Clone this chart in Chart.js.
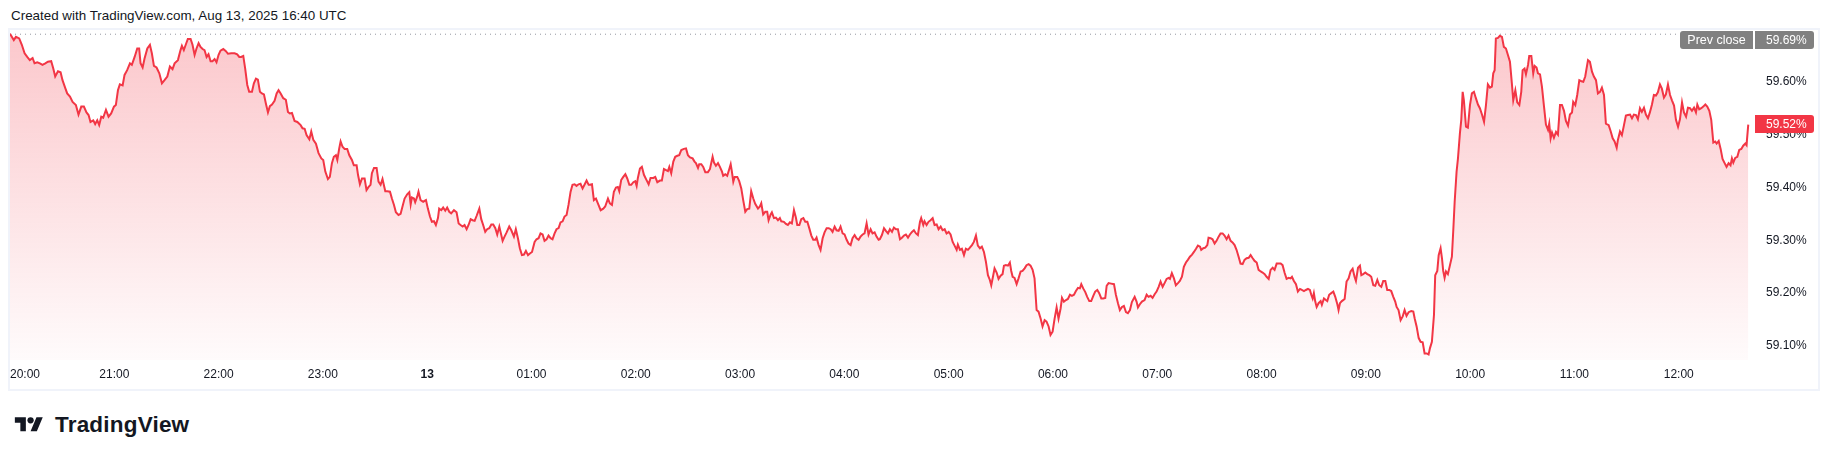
<!DOCTYPE html>
<html>
<head>
<meta charset="utf-8">
<script src="https://cdn.jsdelivr.net/npm/chart.js@4.4.1/dist/chart.umd.min.js"></script>
<style>
  html, body { margin: 0; padding: 0; background: #fff; }
  body { width: 1831px; height: 459px; position: relative; overflow: hidden; font-family: "Liberation Sans", Arial, sans-serif; color: #131722; }
  .title { position: absolute; left: 11px; top: 8px; font-size: 13.4px; }
  .frame { position: absolute; left: 8px; top: 28px; width: 1808px; height: 359px; border: 2px solid #f0f3fa; }
  .wrap { position: absolute; left: 10px; top: 30px; width: 1808px; height: 359px; }
  .logo { position: absolute; left: 12px; top: 413px; height: 24px; display: flex; align-items: center; }
  .logo svg { width: 34px; height: 22px; }
  .logo span { margin-left: 9px; font-size: 22.5px; font-weight: bold; color: #131722; letter-spacing: 0.2px; }
</style>
</head>
<body>
<div class="title">Created with TradingView.com, Aug 13, 2025 16:40 UTC</div>
<div class="frame"></div>
<div class="wrap"><canvas id="chart" width="1808" height="359"></canvas></div>
<div class="logo">
  <svg viewBox="0 0 36 28"><path fill="#131722" d="M14 22H7V11H0V4h14v18zM28 22h-8l7.5-18h8L28 22z"/><circle fill="#131722" cx="20" cy="8" r="4"/></svg>
  <span>TradingView</span>
</div>
<script>
(() => {
  'use strict';

  // minutes after 20:00 (Aug 12) for each reading
  const mins = [
    0,2.2,3.4,5.3,6.8,8.4,9.9,11.4,13.0,14.1,
    15.7,17.2,18.7,20.3,21.8,23.7,24.9,26.0,27.6,29.1,
    30.2,31.8,32.9,34.5,36.0,37.9,39.4,41.0,42.5,44.0,
    45.2,46.3,47.9,49.0,50.2,51.3,52.5,53.6,55.2,56.7,
    58.2,59.8,60.9,62.1,63.2,64.8,65.9,67.4,69.0,70.1,
    71.7,73.2,74.3,75.1,76.3,77.4,79.0,80.5,81.6,82.8,
    84.3,85.9,87.4,88.9,90.5,92.0,93.5,94.7,96.6,98.1,
    98.9,100.0,101.2,102.3,103.9,105.0,106.2,107.3,108.5,109.6,
    110.8,111.9,113.1,114.2,115.4,116.5,117.7,118.8,120.0,121.1,
    122.7,124.2,125.4,127.3,129.2,130.7,131.9,133.0,134.2,135.3,
    136.5,137.6,139.2,140.3,141.5,142.6,143.8,144.9,146.1,147.2,
    148.4,149.5,150.7,152.2,153.4,154.5,155.7,157.2,158.7,159.9,
    161.0,162.2,163.7,165.3,
    167.2,168.3,169.5,170.6,172.2,173.3,174.5,176.0,177.5,179.1,
    180.2,181.4,182.9,184.0,185.2,186.3,187.5,188.3,189.4,190.2,
    191.3,192.5,194.0,195.2,196.7,197.8,199.4,200.2,201.3,202.5,
    204.0,205.1,206.3,207.4,208.2,209.4,210.9,212.0,213.2,214.3,
    215.9,217.0,218.6,219.7,220.9,222.0,223.5,224.7,225.8,227.0,
    228.5,229.7,230.5,231.2,232.4,233.1,234.3,235.0,236.2,237.7,
    239.3,240.4,241.6,242.7,243.9,245.0,246.2,246.9,248.1,249.2,
    250.4,251.5,252.7,253.8,255.4,256.9,258.1,259.2,260.4,261.5,
    262.7,263.8,265.0,266.1,267.3,268.4,270.0,271.1,272.2,273.4,
    274.5,275.7,276.9,278.0,279.2,280.3,281.5,282.2,283.4,284.5,
    285.7,287.2,288.4,289.9,291.0,292.2,293.3,294.5,295.7,296.8,
    298.0,299.1,300.3,301.8,302.9,304.1,305.2,306.4,307.5,308.7,
    309.8,311.0,312.1,313.3,314.4,315.6,316.7,317.9,319.0,320.2,
    321.3,322.5,323.6,324.8,325.9,327.1,328.2,329.4,330.5,331.7,
    332.9,
    333.6,334.8,335.9,337.1,338.2,339.8,341.3,342.4,344.0,345.1,
    346.3,347.4,348.6,349.7,350.5,351.6,352.8,354.0,355.1,356.3,
    357.4,358.6,359.7,360.5,361.2,362.4,363.5,364.7,366.2,367.4,
    368.5,370.1,371.2,372.4,373.9,375.0,376.2,377.4,378.5,379.3,
    380.4,381.6,382.7,383.9,385.0,386.2,387.7,388.9,390.0,391.2,
    392.7,393.8,394.6,395.8,396.5,397.7,398.8,400.0,401.5,402.7,
    403.4,404.2,405.0,406.1,407.3,408.4,409.6,410.3,411.5,412.6,
    413.8,414.6,415.3,416.1,416.9,418.4,419.5,420.7,421.8,423.0,
    424.1,425.3,426.4,427.6,428.7,430.3,431.4,432.2,433.3,434.5,
    435.6,436.4,437.6,438.3,439.5,440.6,441.8,442.9,443.7,445.2,
    446.4,447.5,448.7,449.8,451.0,452.1,452.9,454.1,455.2,456.4,
    457.5,458.7,459.8,461.0,462.1,463.3,464.0,465.2,466.3,467.5,
    468.6,469.8,471.0,472.1,473.2,474.4,475.5,476.7,477.8,479.0,
    480.1,481.3,482.4,483.6,484.7,485.9,487.0,488.2,489.3,490.5,
    491.6,492.8,493.9,495.1,496.2,497.4,498.5,499.7,
    500.4,501.6,502.8,503.9,505.1,506.2,507.4,508.5,509.7,510.8,
    512.0,513.1,514.3,515.4,516.6,517.7,518.9,520.0,521.2,522.3,
    523.5,524.2,525.4,526.1,527.3,528.4,529.6,530.8,531.9,533.1,
    534.2,535.4,536.5,537.7,538.8,540.0,541.1,542.3,543.4,544.6,
    545.3,546.5,547.6,548.8,549.9,551.1,552.2,553.4,554.5,555.7,
    556.8,558.0,559.1,560.3,561.4,562.6,563.7,564.5,565.6,566.4,
    567.6,568.7,569.9,571.0,571.8,572.9,574.1,575.2,576.0,576.8,
    577.9,579.1,580.2,581.4,582.5,583.7,584.8,586.0,587.1,588.3,
    589.4,590.6,591.7,592.9,594.0,595.2,596.3,597.5,598.6,599.8,
    600.9,602.1,603.2,604.4,605.2,606.3,607.5,608.6,609.8,610.9,
    612.1,613.2,614.4,615.5,616.3,617.4,618.6,619.7,620.9,622.0,
    623.2,624.3,625.5,626.6,627.8,628.9,630.1,630.9,632.0,633.5,
    635.1,636.2,637.4,638.5,639.7,640.8,642.0,643.1,644.3,645.4,
    647.0,648.1,648.9,650.0,651.2,652.7,653.9,655.0,656.2,657.3,
    658.5,659.6,660.8,661.9,663.1,664.2,665.4,666.5,
    667.3,668.4,669.6,670.7,671.9,673.0,674.2,675.3,676.5,677.6,
    678.8,680.0,681.1,682.3,683.4,684.6,685.3,686.5,687.6,688.8,
    689.5,690.7,691.8,693.0,694.1,695.3,696.4,697.6,698.7,699.9,
    701.0,702.2,703.3,704.5,705.6,706.8,707.9,709.1,710.2,711.4,
    712.6,713.7,714.9,716.0,717.2,718.3,719.5,720.6,721.8,722.9,
    724.1,725.2,726.4,727.5,728.7,729.8,731.0,732.1,733.3,734.4,
    735.6,736.7,737.5,738.6,739.8,740.9,742.1,743.2,744.4,745.5,
    746.7,747.8,748.6,749.4,750.1,750.9,751.7,752.8,754.0,754.7,
    755.9,757.0,757.8,758.9,760.1,761.3,762.4,763.6,764.3,765.1,
    766.2,767.8,768.9,770.1,771.2,772.4,773.5,774.3,775.5,776.6,
    777.4,778.5,779.7,780.8,782.0,783.1,784.3,785.4,786.6,787.7,
    788.9,790.0,791.2,792.3,793.5,794.6,795.8,796.9,797.7,798.8,
    800.0,801.2,802.3,803.4,804.6,806.1,807.3,808.1,809.2,810.4,
    811.5,812.7,813.8,815.0,816.1,816.9,818.0,819.2,819.9,821.1,
    821.9,823.0,823.8,824.5,825.3,826.1,827.2,828.4,829.5,830.3,
    831.1,832.2,833.0,
    834.1,834.9,835.7,836.4,837.6,838.7,839.9,841.0,842.2,843.3,
    844.5,845.6,846.8,848.0,849.1,850.2,851.4,852.5,853.3,854.1,
    854.8,856.0,857.1,858.3,859.4,860.6,861.7,862.9,864.0,864.8,
    866.0,867.1,868.3,869.4,870.2,871.3,872.1,873.3,874.0,875.2,
    876.3,877.1,878.2,879.0,880.2,881.3,882.5,883.6,884.8,885.5,
    886.3,887.1,888.2,889.4,890.5,891.7,892.8,894.0,895.1,896.3,
    897.4,898.6,899.3,900.5,901.6,902.8,904.0,905.1,906.2,907.8,
    908.9,910.1,911.2,912.4,913.5,914.7,915.8,917.0,918.1,919.7,
    920.8,922.0,923.1,924.3,925.0,926.2,927.3,928.5,929.6,930.8,
    932.0,933.1,934.2,935.4,936.5,937.7,938.8,940.0,941.1,942.3,
    943.4,944.6,945.7,946.9,948.0,949.2,950.3,951.5,952.6,953.8,
    955.0,956.1,957.3,958.4,959.6,960.7,961.9,963.0,964.2,965.3,
    966.5,967.6,968.8,969.9,970.7,971.8,973.0,974.1,975.3,976.4,
    977.6,978.7,979.9,981.0,981.8,983.0,984.1,985.2,986.4,987.5,
    988.7,989.8,990.6,991.4,992.5,993.7,994.8,996.0,997.1,998.3,
    999.0,1000
  ];

  // yield in %
  const pct = [
    59.691,59.679,59.685,59.682,59.670,59.654,59.647,59.641,59.645,59.635,
    59.637,59.635,59.632,59.635,59.638,59.639,59.625,59.610,59.620,59.618,
    59.603,59.588,59.578,59.572,59.562,59.556,59.538,59.553,59.553,59.542,
    59.537,59.524,59.527,59.520,59.527,59.518,59.534,59.532,59.547,59.534,
    59.540,59.553,59.556,59.584,59.595,59.593,59.613,59.622,59.635,59.632,
    59.647,59.663,59.663,59.635,59.627,59.644,59.663,59.670,59.654,59.630,
    59.627,59.616,59.597,59.603,59.610,59.629,59.624,59.635,59.641,59.660,
    59.668,59.660,59.671,59.681,59.681,59.670,59.651,59.663,59.673,59.666,
    59.662,59.660,59.647,59.652,59.639,59.639,59.643,59.637,59.651,59.659,
    59.662,59.658,59.653,59.654,59.654,59.652,59.647,59.647,59.649,59.625,
    59.594,59.581,59.581,59.597,59.606,59.604,59.581,59.578,59.576,59.559,
    59.542,59.554,59.557,59.564,59.578,59.584,59.578,59.569,59.566,59.543,
    59.540,59.541,59.526,59.524,
    59.518,59.512,59.511,59.499,59.491,59.506,59.490,59.483,59.465,59.455,
    59.452,59.430,59.416,59.420,59.446,59.458,59.461,59.452,59.474,59.487,
    59.477,59.473,59.473,59.461,59.452,59.442,59.442,59.424,59.406,59.417,
    59.417,59.395,59.401,59.405,59.427,59.437,59.437,59.411,59.405,59.416,
    59.393,59.393,59.392,59.379,59.367,59.353,59.348,59.350,59.364,59.379,
    59.387,59.391,59.368,59.381,59.379,59.372,59.383,59.392,59.376,59.373,
    59.376,59.360,59.345,59.335,59.336,59.329,59.342,59.360,59.357,59.362,
    59.356,59.362,59.354,59.351,59.357,59.353,59.332,59.329,59.326,59.329,
    59.321,59.329,59.340,59.338,59.337,59.346,59.360,59.340,59.329,59.316,
    59.321,59.323,59.330,59.330,59.323,59.311,59.326,59.316,59.299,59.307,
    59.315,59.326,59.319,59.307,59.321,59.304,59.285,59.272,59.273,59.280,
    59.272,59.275,59.278,59.297,59.302,59.304,59.313,59.311,59.299,59.302,
    59.309,59.304,59.302,59.313,59.321,59.323,59.334,59.336,59.345,59.348,
    59.367,59.392,59.405,59.406,59.403,59.406,59.407,59.398,59.405,59.413,
    59.405,
    59.405,59.406,59.376,59.379,59.370,59.357,59.360,59.364,59.379,59.370,
    59.367,59.392,59.400,59.401,59.393,59.414,59.420,59.425,59.417,59.405,
    59.405,59.410,59.412,59.403,59.418,59.436,59.439,59.424,59.414,59.406,
    59.418,59.418,59.420,59.410,59.413,59.413,59.435,59.433,59.431,59.439,
    59.427,59.449,59.458,59.460,59.461,59.471,59.473,59.474,59.461,59.457,
    59.455,59.449,59.446,59.437,59.444,59.444,59.439,59.429,59.429,59.435,
    59.446,59.458,59.447,59.441,59.446,59.439,59.430,59.422,59.425,59.422,
    59.435,59.444,59.430,59.411,59.420,59.420,59.412,59.398,59.376,59.354,
    59.359,59.360,59.393,59.379,59.369,59.360,59.364,59.370,59.349,59.354,
    59.354,59.338,59.349,59.353,59.342,59.343,59.338,59.342,59.336,59.335,
    59.331,59.329,59.334,59.332,59.357,59.343,59.329,59.329,59.340,59.342,
    59.335,59.335,59.323,59.309,59.301,59.301,59.305,59.291,59.282,59.304,
    59.315,59.323,59.323,59.321,59.316,59.326,59.319,59.318,59.326,59.313,
    59.311,59.301,59.294,59.291,59.304,59.310,59.304,59.301,59.307,59.311,
    59.313,59.332,59.311,59.321,59.313,59.315,59.307,59.301,
    59.302,59.310,59.323,59.318,59.313,59.321,59.316,59.324,59.321,59.321,
    59.302,59.305,59.309,59.311,59.305,59.311,59.316,59.319,59.313,59.310,
    59.335,59.342,59.329,59.336,59.329,59.335,59.338,59.342,59.329,59.330,
    59.321,59.326,59.319,59.321,59.313,59.316,59.311,59.297,59.290,59.282,
    59.292,59.282,59.284,59.272,59.284,59.282,59.286,59.291,59.297,59.309,
    59.290,59.285,59.288,59.278,59.260,59.234,59.225,59.215,59.233,59.247,
    59.239,59.227,59.233,59.236,59.252,59.253,59.252,59.258,59.242,59.231,
    59.229,59.217,59.228,59.241,59.242,59.247,59.253,59.255,59.252,59.244,
    59.228,59.168,59.165,59.152,59.137,59.149,59.146,59.137,59.121,59.127,
    59.151,59.173,59.152,59.171,59.191,59.184,59.187,59.189,59.197,59.195,
    59.197,59.204,59.210,59.209,59.217,59.209,59.202,59.193,59.185,59.185,
    59.195,59.203,59.206,59.200,59.190,59.190,59.191,59.214,59.219,59.218,
    59.217,59.197,59.181,59.168,59.174,59.176,59.164,59.162,59.168,59.183,
    59.193,59.184,59.173,59.179,59.184,59.187,59.197,59.193,59.195,59.191,
    59.198,59.203,59.212,59.222,59.212,59.219,59.227,59.229,
    59.227,59.238,59.228,59.215,59.219,59.223,59.231,59.250,59.258,59.263,
    59.269,59.273,59.278,59.284,59.290,59.288,59.282,59.285,59.286,59.291,
    59.305,59.304,59.302,59.294,59.299,59.307,59.313,59.313,59.309,59.302,
    59.309,59.299,59.296,59.291,59.282,59.269,59.256,59.255,59.263,59.266,
    59.267,59.272,59.266,59.261,59.258,59.244,59.241,59.239,59.236,59.231,
    59.227,59.244,59.248,59.244,59.256,59.256,59.256,59.253,59.238,59.227,
    59.229,59.228,59.231,59.223,59.217,59.203,59.208,59.206,59.204,59.206,
    59.208,59.206,59.197,59.190,59.200,59.184,59.174,59.181,59.185,59.178,
    59.190,59.187,59.185,59.197,59.200,59.203,59.193,59.179,59.168,59.181,
    59.185,59.189,59.222,59.228,59.241,59.246,59.231,59.223,59.248,59.252,
    59.234,59.236,59.239,59.236,59.234,59.231,59.215,59.214,59.225,59.215,
    59.212,59.223,59.223,59.206,59.206,59.204,59.193,59.184,59.174,59.168,
    59.149,59.156,59.168,59.157,59.164,59.166,59.165,59.152,59.137,59.115,
    59.108,59.107,59.086,59.086,59.084,59.096,59.108,59.159,59.234,59.242,
    59.272,59.285,59.266,59.242,59.229,59.241,59.236,59.253,59.269,59.319,
    59.373,59.430,59.455,
    59.502,59.528,59.581,59.565,59.515,59.513,59.556,59.578,59.581,59.569,
    59.557,59.550,59.538,59.524,59.556,59.595,59.589,59.591,59.616,59.622,
    59.682,59.683,59.687,59.685,59.666,59.663,59.651,59.638,59.597,59.565,
    59.584,59.561,59.556,59.581,59.622,59.625,59.614,59.632,59.649,59.649,
    59.616,59.630,59.627,59.616,59.614,59.591,59.553,59.519,59.509,59.521,
    59.493,59.504,59.494,59.505,59.500,59.556,59.556,59.545,59.526,59.517,
    59.538,59.542,59.562,59.556,59.575,59.603,59.601,59.600,59.610,59.641,
    59.638,59.619,59.610,59.603,59.578,59.581,59.589,59.575,59.521,59.518,
    59.507,59.493,59.487,59.475,59.490,59.506,59.499,59.518,59.536,59.537,
    59.538,59.531,59.538,59.537,59.529,59.550,59.543,59.551,59.538,59.531,
    59.542,59.557,59.575,59.574,59.580,59.595,59.587,59.570,59.576,59.595,
    59.575,59.565,59.555,59.528,59.515,59.529,59.561,59.542,59.534,59.551,
    59.550,59.545,59.551,59.542,59.557,59.548,59.550,59.553,59.557,59.553,
    59.545,59.528,59.485,59.487,59.483,59.488,59.473,59.454,59.446,59.439,
    59.446,59.442,59.455,59.447,59.456,59.458,59.471,59.473,59.479,59.483,
    59.480,59.519
  ];

  const prevClose = 59.69;
  const lastValue = 59.52;
  const startHour = 20;
  const dayLabel = '13';

  const red = '#f23645';
  const xMax = 1003.3;
  const yMin = 59.0735, yMax = 59.698;

  function hourLabel(v) {
    if (v % 60 !== 0) return '';
    const h = (startHour + v / 60) % 24;
    if (h === 0) return dayLabel;
    return String(h).padStart(2, '0') + ':00';
  }

  // no extra padding from the axes, the frame is fixed
  function noPad(s) {
    s.paddingTop = 0; s.paddingBottom = 0;
    s.paddingLeft = 0; s.paddingRight = 0;
  }

  // boxes on the price scale (prev close + last value)
  const priceLabels = {
    id: 'priceLabels',
    afterDraw(chart) {
      const {ctx, chartArea, scales} = chart;
      const y = scales.y;
      const h = 18;
      const vx = chartArea.right + 1, vw = 59;
      ctx.save();
      ctx.textBaseline = 'middle';

      let top = Math.max(y.getPixelForValue(prevClose) - h / 2, chartArea.top + 1);
      ctx.fillStyle = '#808080';
      ctx.beginPath();
      ctx.roundRect(chartArea.right - 74, top, 73, h, [3, 0, 0, 3]);
      ctx.fill();
      ctx.beginPath();
      ctx.roundRect(vx, top, vw, h, [0, 3, 3, 0]);
      ctx.fill();
      ctx.fillStyle = '#fff';
      ctx.font = '12.5px "Liberation Sans", Arial, sans-serif';
      ctx.textAlign = 'center';
      ctx.fillText('Prev close', chartArea.right - 37.5, top + h / 2 + 0.5);
      ctx.font = '12px "Liberation Sans", Arial, sans-serif';
      ctx.textAlign = 'left';
      ctx.fillText(prevClose.toFixed(2) + '%', chartArea.right + 12, top + h / 2 + 0.5);

      top = y.getPixelForValue(lastValue) - h / 2;
      ctx.fillStyle = red;
      ctx.beginPath();
      ctx.roundRect(vx, top, vw, h, [0, 3, 3, 0]);
      ctx.fill();
      ctx.fillStyle = '#fff';
      ctx.fillText(lastValue.toFixed(2) + '%', chartArea.right + 12, top + h / 2 + 0.5);
      ctx.restore();
    }
  };

  const ctx = document.getElementById('chart');
  new Chart(ctx, {
    type: 'line',
    data: {
      datasets: [{
        data: mins.map((m, i) => ({x: m, y: pct[i]})),
        borderColor: red,
        borderWidth: 2,
        pointRadius: 0,
        tension: 0,
        fill: 'start',
        backgroundColor: c => {
          const area = c.chart.chartArea;
          if (!area) return 'rgba(242,54,69,0.15)';
          const g = c.chart.ctx.createLinearGradient(0, area.top, 0, area.bottom);
          g.addColorStop(0, 'rgba(242,54,69,0.28)');
          g.addColorStop(1, 'rgba(242,54,69,0.02)');
          return g;
        }
      }, {
        data: [{x: 0, y: prevClose}, {x: xMax, y: prevClose}],
        borderColor: '#9598a1',
        borderWidth: 1,
        borderDash: [1, 4],
        pointRadius: 0,
        fill: false
      }]
    },
    options: {
      responsive: false,
      animation: false,
      devicePixelRatio: 1,
      layout: {padding: 0},
      plugins: {legend: {display: false}, tooltip: {enabled: false}},
      scales: {
        x: {
          type: 'linear',
          min: 0,
          max: xMax,
          grid: {display: false, drawTicks: false},
          border: {display: false},
          afterBuildTicks: s => { s.ticks.push({value: s.max}); },
          afterFit: s => { s.height = 29; noPad(s); },
          ticks: {
            stepSize: 60,
            maxTicksLimit: 100,
            includeBounds: false,
            autoSkip: false,
            maxRotation: 0,
            align: 'inner',
            padding: 7,
            color: '#131722',
            font: c => ({family: '"Liberation Sans", Arial, sans-serif', size: 12,
              weight: c.tick && hourLabel(c.tick.value) === dayLabel ? 'bold' : 'normal'}),
            callback: v => hourLabel(v)
          }
        },
        y: {
          position: 'right',
          min: yMin,
          max: yMax,
          grid: {display: false, drawTicks: false},
          border: {display: false},
          afterFit: s => { s.width = 64; noPad(s); },
          ticks: {
            stepSize: 0.1,
            includeBounds: false,
            padding: 12,
            color: '#131722',
            font: {family: '"Liberation Sans", Arial, sans-serif', size: 12},
            callback: v => v.toFixed(2) + '%'
          }
        }
      }
    },
    plugins: [priceLabels]
  });
})();
</script>
</body>
</html>
